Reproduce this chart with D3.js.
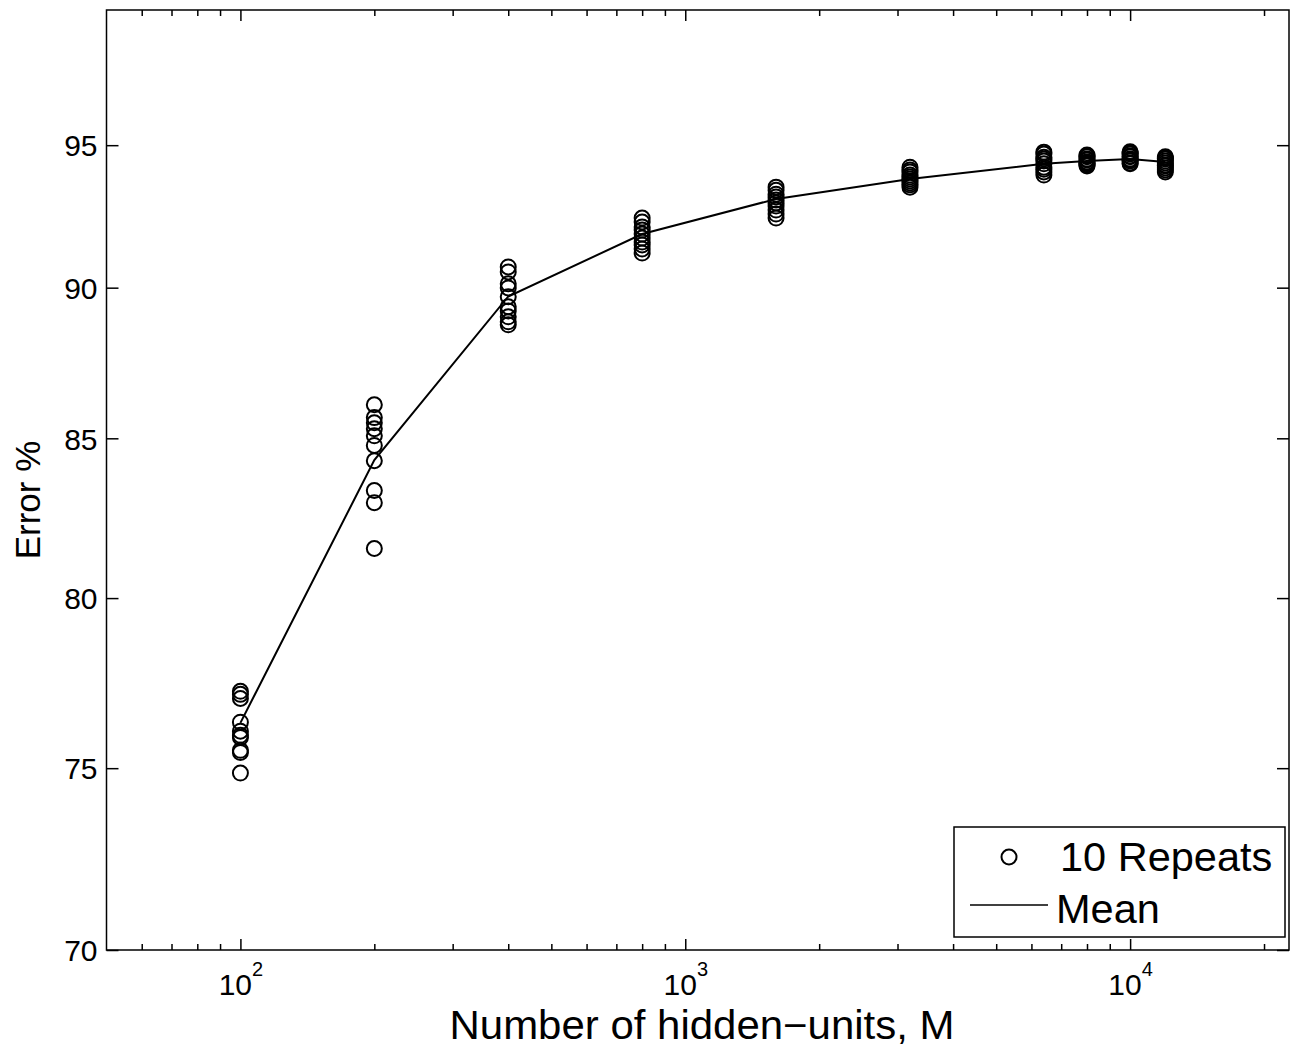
<!DOCTYPE html>
<html>
<head>
<meta charset="utf-8">
<script src="https://cdn.jsdelivr.net/npm/d3@7/dist/d3.min.js"></script>
<style>
  html, body { margin: 0; padding: 0; background: #fff; }
  svg { display: block; }
  svg text { font-family: "Liberation Sans", Arial, Helvetica, sans-serif; fill: #000; }
</style>
</head>
<body>
<div id="chart"></div>
<script>
// hidden-unit counts (x) and the 10 repeat scores for each
var units = [100, 200, 400, 800, 1600, 3200, 6400, 8000, 10000, 12000];

var repeats = [
  [77.22, 77.13, 77.01, 76.32, 76.06, 75.94, 75.88, 75.51, 75.45, 74.86],
  [86.09, 85.67, 85.50, 85.31, 85.08, 84.77, 84.28, 83.33, 82.95, 81.52],
  [90.71, 90.54, 90.13, 89.99, 89.69, 89.35, 89.21, 89.01, 88.84, 88.74],
  [92.41, 92.27, 92.10, 91.99, 91.85, 91.71, 91.57, 91.47, 91.33, 91.19],
  [93.50, 93.39, 93.25, 93.15, 93.04, 92.94, 92.83, 92.69, 92.55, 92.41],
  [94.21, 94.11, 94.04, 93.93, 93.86, 93.79, 93.72, 93.65, 93.58, 93.50],
  [94.75, 94.68, 94.57, 94.50, 94.43, 94.33, 94.21, 94.14, 94.04, 93.93],
  [94.65, 94.61, 94.58, 94.50, 94.47, 94.40, 94.36, 94.33, 94.29, 94.25],
  [94.76, 94.72, 94.68, 94.61, 94.58, 94.50, 94.47, 94.43, 94.36, 94.33],
  [94.58, 94.54, 94.50, 94.43, 94.36, 94.29, 94.25, 94.18, 94.11, 94.04]
];

// mean curve as drawn
var meanValues = [76.3, 84.3, 89.7, 91.85, 93.08, 93.79, 94.33, 94.43, 94.50, 94.40];

var yTicks = [70, 75, 80, 85, 90, 95];
var xMajorTicks = [100, 1000, 10000];

var Chart = (function() {
  var width = 1291, height = 1047;
  var plotLeft = 106.5, plotRight = 1289, plotTop = 10, plotBottom = 950;

  function styleAxis(g) {
    g.select(".domain").remove();
    g.attr("font-family", null).attr("font-size", null);
    g.selectAll(".tick line").attr("stroke", "#000").attr("stroke-width", 1.5);
  }

  function draw() {
    var svg = d3.select("#chart").append("svg")
        .attr("width", width)
        .attr("height", height);

    var x = d3.scaleLog().domain([50, 22760]).range([plotLeft, plotRight]);
    var y = d3.scaleLog().domain([70, 100]).range([plotBottom, plotTop]);

    // minor ticks = log ticks that aren't decades
    var minorTicks = x.ticks().filter(function(d) { return xMajorTicks.indexOf(d) < 0 && d > 50; });

    // ticks point inward, on all four sides
    svg.append("g")
        .attr("transform", "translate(0," + plotBottom + ")")
        .call(d3.axisBottom(x).tickValues(minorTicks).tickSize(-6).tickFormat(""))
        .call(styleAxis);
    svg.append("g")
        .attr("transform", "translate(0," + plotTop + ")")
        .call(d3.axisTop(x).tickValues(minorTicks).tickSize(-6).tickFormat(""))
        .call(styleAxis);
    svg.append("g")
        .attr("transform", "translate(0," + plotTop + ")")
        .call(d3.axisTop(x).tickValues(xMajorTicks).tickSize(-11).tickFormat(""))
        .call(styleAxis);

    var xMajor = svg.append("g")
        .attr("transform", "translate(0," + plotBottom + ")")
        .call(d3.axisBottom(x).tickValues(xMajorTicks).tickSize(-11).tickFormat(""))
        .call(styleAxis);
    xMajor.selectAll(".tick text").remove();

    // 10^n labels
    xMajor.selectAll(".tick").append("text")
        .attr("y", 45)
        .attr("text-anchor", "middle")
        .style("font-size", "30px")
        .each(function(d) {
          var t = d3.select(this);
          t.append("tspan").text("10");
          t.append("tspan")
            .attr("dy", -19)
            .style("font-size", "20px")
            .text(Math.round(Math.log10(d)));
        });

    var yLeft = svg.append("g")
        .attr("transform", "translate(" + plotLeft + ",0)")
        .call(d3.axisLeft(y).tickValues(yTicks).tickSize(-12).tickPadding(9)
              .tickFormat(d3.format("d")))
        .call(styleAxis);
    yLeft.selectAll(".tick text")
        .attr("x", -9)
        .attr("dy", "0.36em")
        .style("font-size", "30px");

    svg.append("g")
        .attr("transform", "translate(" + plotRight + ",0)")
        .call(d3.axisRight(y).tickValues(yTicks).tickSize(-12).tickFormat(""))
        .call(styleAxis);

    // box
    svg.append("rect")
        .attr("x", plotLeft).attr("y", plotTop)
        .attr("width", plotRight - plotLeft).attr("height", plotBottom - plotTop)
        .attr("fill", "none")
        .attr("stroke", "#000")
        .attr("stroke-width", 1.5);

    // repeat markers
    var pts = [];
    units.forEach(function(u, i) {
      repeats[i].forEach(function(v) { pts.push({ u: u, v: v }); });
    });

    svg.append("g").selectAll("circle")
        .data(pts)
        .enter().append("circle")
        .attr("cx", function(d) { return x(d.u); })
        .attr("cy", function(d) { return y(d.v); })
        .attr("r", 7.5)
        .attr("fill", "none")
        .attr("stroke", "#000")
        .attr("stroke-width", 2);

    // mean line
    var line = d3.line()
        .x(function(d, i) { return x(units[i]); })
        .y(function(d) { return y(d); });

    svg.append("path")
        .datum(meanValues)
        .attr("d", line)
        .attr("fill", "none")
        .attr("stroke", "#000")
        .attr("stroke-width", 2);

    // axis titles
    svg.append("text")
        .attr("x", 702)
        .attr("y", 1039)
        .attr("text-anchor", "middle")
        .attr("textLength", 505)
        .attr("lengthAdjust", "spacingAndGlyphs")
        .style("font-size", "40px")
        .text("Number of hidden\u2212units, M");

    svg.append("text")
        .attr("transform", "translate(40,500) rotate(-90)")
        .attr("text-anchor", "middle")
        .style("font-size", "35px")
        .text("Error %");

    // legend
    var legend = svg.append("g");
    legend.append("rect")
        .attr("x", 954).attr("y", 827)
        .attr("width", 331).attr("height", 110)
        .attr("fill", "#fff")
        .attr("stroke", "#000")
        .attr("stroke-width", 1.5);
    legend.append("circle")
        .attr("cx", 1009).attr("cy", 857)
        .attr("r", 7.5)
        .attr("fill", "none")
        .attr("stroke", "#000")
        .attr("stroke-width", 2);
    legend.append("text")
        .attr("x", 1060).attr("y", 871)
        .style("font-size", "41.5px")
        .text("10 Repeats");
    legend.append("line")
        .attr("x1", 970).attr("x2", 1048)
        .attr("y1", 905).attr("y2", 905)
        .attr("stroke", "#000")
        .attr("stroke-width", 1.5);
    legend.append("text")
        .attr("x", 1056).attr("y", 923)
        .style("font-size", "41.5px")
        .text("Mean");
  }

  return { draw: draw };
})();

Chart.draw();
</script>
</body>
</html>
